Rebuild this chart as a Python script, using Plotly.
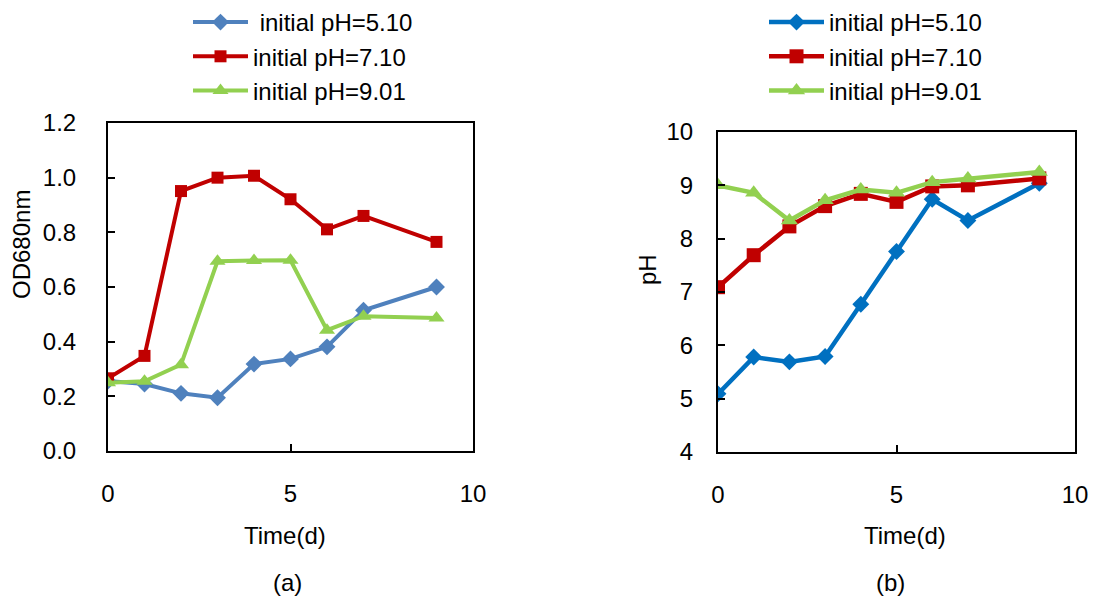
import plotly.graph_objects as go
from plotly.subplots import make_subplots

# Sampling days
days = [0, 1, 2, 3, 4, 5, 6, 7, 9]

# (a) OD680nm
od_ph510 = [0.256, 0.245, 0.211, 0.195, 0.318, 0.337, 0.381, 0.515, 0.600]
od_ph710 = [0.266, 0.348, 0.951, 1.000, 1.007, 0.921, 0.811, 0.860, 0.765]
od_ph901 = [0.250, 0.255, 0.316, 0.694, 0.697, 0.698, 0.442, 0.493, 0.487]

# (b) pH
ph_ph510 = [5.09, 5.78, 5.69, 5.79, 6.77, 7.76, 8.74, 8.34, 9.04]
ph_ph710 = [7.09, 7.69, 8.23, 8.61, 8.84, 8.69, 8.98, 9.00, 9.13]
ph_ph901 = [9.00, 8.86, 8.34, 8.72, 8.92, 8.86, 9.06, 9.13, 9.25]

series_names = ["initial pH=5.10", "initial pH=7.10", "initial pH=9.01"]
x_ticks = [0, 5, 10]

W, H = 1095, 599
FONT = "Liberation Sans, Arial, sans-serif"

fig = make_subplots(rows=1, cols=2)

styles_a = [
    dict(color="#4F81BD", symbol="diamond", size=13),
    dict(color="#C00000", symbol="square", size=12),
    dict(color="#92D050", symbol="triangle-up", size=14),
]
styles_b = [
    dict(color="#0070C0", symbol="diamond", size=13),
    dict(color="#C00000", symbol="square", size=14),
    dict(color="#92D050", symbol="triangle-up", size=15),
]

names_a = ["\u00a0" + series_names[0], series_names[1], series_names[2]]
for name, ys, st in zip(names_a, [od_ph510, od_ph710, od_ph901], styles_a):
    fig.add_trace(go.Scatter(
        x=days, y=ys, name=name, mode="lines+markers",
        line=dict(color=st["color"], width=4),
        marker=dict(color=st["color"], symbol=st["symbol"], size=st["size"]),
        legend="legend",
    ), row=1, col=1)

for name, ys, st in zip(series_names, [ph_ph510, ph_ph710, ph_ph901], styles_b):
    fig.add_trace(go.Scatter(
        x=days, y=ys, name=name, mode="lines+markers",
        line=dict(color=st["color"], width=4.5),
        marker=dict(color=st["color"], symbol=st["symbol"], size=st["size"]),
        legend="legend2",
    ), row=1, col=2)

axis_common = dict(
    showline=True, mirror=True, linecolor="black", linewidth=2,
    showgrid=False, zeroline=False, ticks="inside", ticklen=7,
    tickcolor="black", tickwidth=1.5, automargin=False,
    tickfont=dict(family=FONT, size=24, color="black"),
)

fig.update_xaxes(axis_common, range=[0, 10], tickvals=x_ticks,
                 ticklabelstandoff=20)
fig.update_xaxes(domain=[108 / W, 473 / W], row=1, col=1)
fig.update_xaxes(domain=[718 / W, 1075 / W], row=1, col=2)

fig.update_yaxes(axis_common)
fig.update_yaxes(domain=[(H - 451) / H, (H - 123) / H], range=[0, 1.2],
                 tickvals=[0, 0.2, 0.4, 0.6, 0.8, 1.0, 1.2],
                 ticktext=["0.0", "0.2", "0.4", "0.6", "0.8", "1.0", "1.2"],
                 ticklabelstandoff=25, row=1, col=1)
fig.update_yaxes(domain=[(H - 452) / H, (H - 132) / H], range=[4, 10],
                 tickvals=[4, 5, 6, 7, 8, 9, 10],
                 ticklabelstandoff=18, row=1, col=2)

txt = dict(family=FONT, size=24, color="black")
annotations = [
    dict(text="Time(d)", x=285 / W, y=(H - 535) / H),
    dict(text="(a)", x=287 / W, y=(H - 582) / H),
    dict(text="Time(d)", x=905 / W, y=(H - 535) / H),
    dict(text="(b)", x=890 / W, y=(H - 582) / H),
    dict(text="OD680nm", x=21 / W, y=(H - 245) / H, textangle=-90),
    dict(text="pH", x=647 / W, y=(H - 270) / H, textangle=-90),
]
for a in annotations:
    fig.add_annotation(xref="paper", yref="paper", showarrow=False,
                       xanchor="center", yanchor="middle", font=txt, **a)

legend_style = dict(font=dict(family=FONT, size=24, color="black"),
                    bgcolor="rgba(0,0,0,0)", xanchor="left", yanchor="top",
                    xref="container", yref="container",
                    tracegroupgap=0, itemwidth=55)

fig.update_layout(
    width=W, height=H,
    margin=dict(l=0, r=0, t=0, b=0, pad=0, autoexpand=False),
    paper_bgcolor="white", plot_bgcolor="white",
    showlegend=True,
    legend=dict(legend_style, x=188 / W, y=1.004),
    legend2=dict(legend_style, x=764 / W, y=1.004),
)

page_fix = ("document.documentElement.style.overflow='hidden';"
            "document.body.style.overflow='hidden';"
            "document.body.style.margin='0';")
fig.write_html("out.html", config={"displayModeBar": False},
               post_script=page_fix)
